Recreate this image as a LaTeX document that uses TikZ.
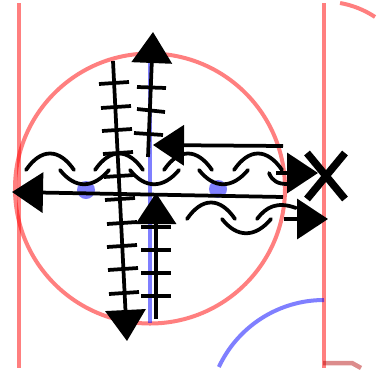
\documentclass[tikz,border=0pt]{standalone}
\usetikzlibrary{arrows.meta}
\tikzset{
  rinkred/.style={draw=red, opacity=0.5, line width=0.08cm},
  rinkblue/.style={draw=blue, opacity=0.5, line width=0.08cm},
  skate/.style={line width=0.075cm, line cap=round},
  pass/.style={line width=0.075cm, -{Triangle[length=0.62cm,width=0.8cm]}},
}
\newcommand{\crossbar}[4]{\draw[line width=0.075cm] (#1,#2) -- (#3,#4);}
\newcommand{\hump}[2]{\draw[skate] (#1,#2) .. controls (#1+15,#2-22) and (#1+33,#2-22) .. (#1+48,#2);}
\newcommand{\trough}[2]{\draw[skate] (#1,#2) .. controls (#1+15,#2+19) and (#1+33,#2+19) .. (#1+49,#2);}
\begin{document}
\begin{tikzpicture}[x=0.02cm, y=-0.02cm]
    \useasboundingbox (0,0) rectangle (384,372);
    % boards and lines
    \draw[rinkred] (18.5,3) -- (18.5,368);
    \draw[rinkred] (324,3) -- (324,368);
    \draw[rinkred] (150,188.5) circle (135);
    \draw[rinkred] (324,94) ++(-80:92.4) arc (-80:-56.5:92.4);
    \draw[rinkblue] (150,60) -- (150,323);
    \draw[rinkblue] (324,300) arc (-90:-155:116);
    \fill[blue, opacity=0.5] (86,190) circle (9);
    \fill[blue, opacity=0.5] (218,189) circle (9);
    \draw[red!70!black, opacity=0.45, line width=0.09cm] (323,363) -- (352,363) -- (361,368);
    % skating lines
    \foreach \x in {26,95,164,234} {\hump{\x}{170}}
    \foreach \x in {60,130,199} {\trough{\x}{170}}
    \draw[skate] (269,173) .. controls (272,181) and (278,184) .. (287,184);
    \hump{187}{219}
    \trough{222}{219}
    \draw[skate] (257,219) .. controls (266,207) and (277,201) .. (296,208);
    % passes and shots
    \draw[pass] (148,157) -- (153,32);
    \crossbar{137}{87}{166}{88}
    \crossbar{137}{109}{165}{112}
    \crossbar{134}{133}{163}{135}
    \draw[pass] (113,61) -- (127,341);
    \foreach \y/\a in {84/99,108/101,131/102,154/103,177/104,200/105,224/107,247/107,270/108,294/109} {
        \crossbar{\a}{\y}{\a+30}{\y-2}
    }
    \draw[pass] (156,319) -- (156,193);
    \foreach \y in {227,250,273,296} {\crossbar{141}{\y}{171}{\y}}
    \draw[pass] (283,197) -- (12,192);
    \draw[pass] (283,146) -- (153,145);
    \draw[pass] (276,173) -- (318,173);
    \draw[pass] (284,219) -- (328,219);
    % the X
    \draw[line width=0.15cm] (307,153) -- (345,199);
    \draw[line width=0.15cm] (345,153) -- (307,199);
\end{tikzpicture}
\end{document}
